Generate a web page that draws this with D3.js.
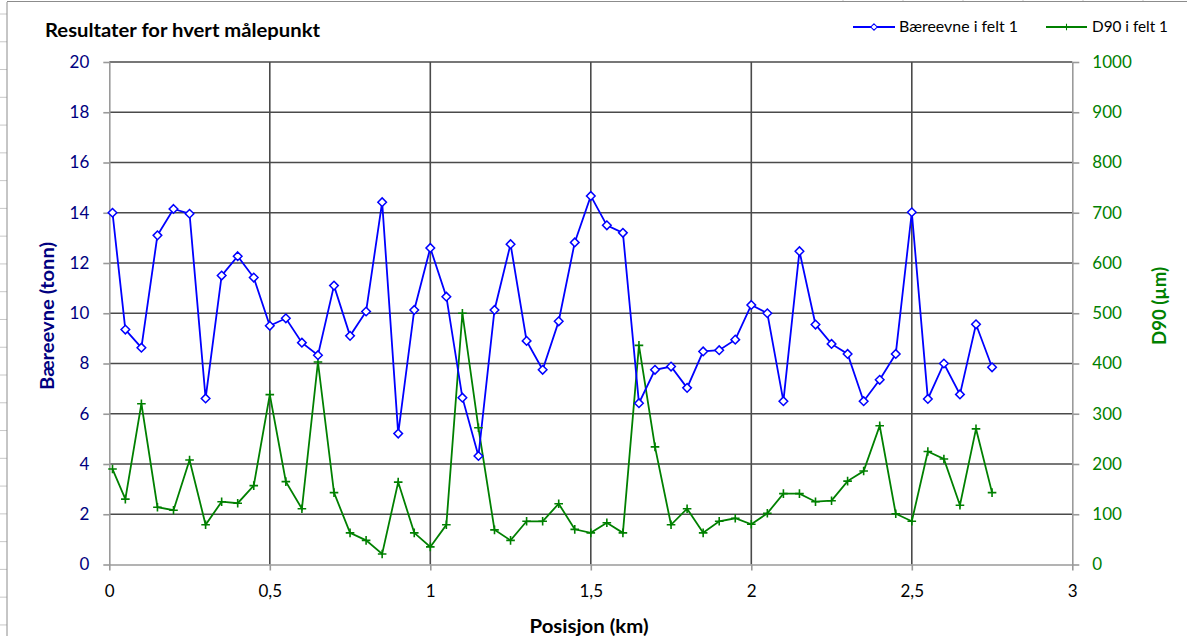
<!DOCTYPE html>
<html><head><meta charset="utf-8">
<script src="https://cdn.jsdelivr.net/npm/d3@7"></script>
<style>
html,body{margin:0;padding:0;background:#fff;}
svg{display:block;font-family:Lato,"Open Sans",sans-serif;}
</style></head>
<body>
<svg id="chart" width="1187" height="636"></svg>
<script>
// ---- data ----
const positions = [0.01,0.05,0.1,0.15,0.2,0.25,0.3,0.35,0.4,0.45,0.5,0.55,0.6,0.65,0.7,0.75,0.8,0.85,0.9,0.95,
  1.0,1.05,1.1,1.15,1.2,1.25,1.3,1.35,1.4,1.45,1.5,1.55,1.6,1.65,1.7,1.75,1.8,1.85,1.9,
  1.95,2.0,2.05,2.1,2.15,2.2,2.25,2.3,2.35,2.4,2.45,2.5,2.55,2.6,2.65,2.7,2.75];
const baereevne = [14.0,9.35,8.63,13.1,14.15,13.96,6.61,11.5,12.27,11.42,9.5,9.8,8.83,8.33,11.1,9.1,10.07,14.42,5.21,10.13,
  12.6,10.66,6.64,4.32,10.13,12.75,8.9,7.75,9.68,12.82,14.67,13.5,13.2,6.42,7.75,7.88,7.03,8.48,8.53,
  8.95,10.33,10.0,6.5,12.47,9.55,8.78,8.38,6.5,7.35,8.38,14.02,6.59,8.0,6.77,9.56,7.85];
const d90 = [190,130,320,114,108,208,79,125,122,157,338,165,111,403,143,63,48,21,164,63,
  35,79,500,272,69,48,86,86,121,70,63,83,63,436,234,79,111,63,86,
  92,80,102,141,141,125,127,166,186,276,101,86,225,210,118,270,143];
const xTicks = [0,0.5,1,1.5,2,2.5,3];
const leftTicks = [0,2,4,6,8,10,12,14,16,18,20];
const rightTicks = [0,100,200,300,400,500,600,700,800,900,1000];
const seriesNames = ["Bæreevne i felt 1","D90 i felt 1"];
const titleText = "Resultater for hvert målepunkt";
const xTitle = "Posisjon (km)";
const leftTitle = "Bæreevne (tonn)";
const rightTitle = "D90 (µm)";

// ---- layout ----
const svg = d3.select("#chart");
const L = 109.3, R = 1072.3, T = 62, B = 564.5;
const BLUE = "#0000ff", GREEN = "#008000", NAVY = "#000080";

// spreadsheet background hints
const bg = svg.append("g");
for (let y = 14; y < 636; y += 27.77) {
  bg.append("line").attr("x1",0).attr("x2",7).attr("y1",y).attr("y2",y).attr("stroke","#c8c8c8");
}
for (let x = 843; x < 1187; x += 60) {
  bg.append("line").attr("x1",x).attr("x2",x).attr("y1",0).attr("y2",2).attr("stroke","#c8c8c8");
}
// chart border
svg.append("line").attr("x1",7).attr("x2",7).attr("y1",2).attr("y2",636).attr("stroke","#8c8c8c").attr("stroke-width",1);
svg.append("line").attr("x1",7).attr("x2",1187).attr("y1",1.5).attr("y2",1.5).attr("stroke","#8c8c8c").attr("stroke-width",1);

const x = d3.scaleLinear().domain([0,3]).range([L,R]);
const yL = d3.scaleLinear().domain([0,20]).range([B,T]);
const yR = d3.scaleLinear().domain([0,1000]).range([B,T]);

// gridlines
const grid = svg.append("g");
grid.selectAll("line.h").data(leftTicks.filter(d=>d>0)).join("line")
  .attr("x1",L).attr("x2",R).attr("y1",d=>yL(d)).attr("y2",d=>yL(d))
  .attr("stroke","#4a4a4a").attr("stroke-width",1.6);
grid.selectAll("line.v").data(xTicks.filter(d=>d>0&&d<3)).join("line")
  .attr("x1",d=>x(d)).attr("x2",d=>x(d)).attr("y1",T).attr("y2",B)
  .attr("stroke","#4a4a4a").attr("stroke-width",1.6);

// axes
const comma = d => String(d).replace(".", ",");
function styleAxis(g, color) {
  g.select(".domain").attr("stroke","#9a9a9a").attr("stroke-width",1.6);
  g.selectAll(".tick line").attr("stroke","#9a9a9a").attr("stroke-width",1.6);
  g.selectAll(".tick text").attr("fill",color).style("font-size","17px").style("font-family","Lato, sans-serif");
}
const axL = svg.append("g").attr("transform",`translate(${L},0)`)
  .call(d3.axisLeft(yL).tickValues(leftTicks).tickFormat(d3.format("d")).tickSize(6).tickPadding(14).tickSizeOuter(0));
styleAxis(axL, NAVY);
const axR = svg.append("g").attr("transform",`translate(${R},0)`)
  .call(d3.axisRight(yR).tickValues(rightTicks).tickFormat(d3.format("d")).tickSize(7).tickPadding(13).tickSizeOuter(0));
styleAxis(axR, GREEN);
const axB = svg.append("g").attr("transform",`translate(0,${B})`)
  .call(d3.axisBottom(x).tickValues(xTicks).tickFormat(comma).tickSize(6).tickPadding(14).tickSizeOuter(0));
styleAxis(axB, "#000");

// series
const lineL = d3.line().x((d,i)=>x(positions[i])).y(d=>yL(d));
const lineR = d3.line().x((d,i)=>x(positions[i])).y(d=>yR(d));
svg.append("path").datum(d90).attr("d",lineR).attr("fill","none").attr("stroke",GREEN).attr("stroke-width",1.8);
svg.append("path").datum(baereevne).attr("d",lineL).attr("fill","none").attr("stroke",BLUE).attr("stroke-width",1.8);

const diamond = "M0,-4.3L4.3,0L0,4.3L-4.3,0Z";
const plus = "M-4.3,0H4.3M0,-4.3V4.3";
svg.append("g").selectAll("path").data(d90).join("path")
  .attr("transform",(d,i)=>`translate(${x(positions[i])},${yR(d)})`)
  .attr("d",plus).attr("stroke",GREEN).attr("stroke-width",1.6).attr("fill","none");
svg.append("g").selectAll("path").data(baereevne).join("path")
  .attr("transform",(d,i)=>`translate(${x(positions[i])},${yL(d)})`)
  .attr("d",diamond).attr("stroke",BLUE).attr("stroke-width",1.5).attr("fill","#fff");

// titles
svg.append("text").attr("x",45).attr("y",37).text(titleText)
  .attr("textLength",275).attr("lengthAdjust","spacingAndGlyphs")
  .style("font-weight","bold").style("font-size","19px").attr("fill","#000");
svg.append("text").attr("x",589).attr("y",633).attr("text-anchor","middle").text(xTitle)
  .attr("textLength",119).attr("lengthAdjust","spacingAndGlyphs")
  .style("font-weight","bold").style("font-size","19px").attr("fill","#000");
svg.append("text").attr("transform","translate(54,316) rotate(-90)").attr("text-anchor","middle").text(leftTitle)
  .attr("textLength",148).attr("lengthAdjust","spacingAndGlyphs")
  .style("font-weight","bold").style("font-size","19px").attr("fill",NAVY);
svg.append("text").attr("transform","translate(1166,306) rotate(-90)").attr("text-anchor","middle").text(rightTitle)
  .attr("textLength",78).attr("lengthAdjust","spacingAndGlyphs")
  .style("font-weight","bold").style("font-size","19px").attr("fill",GREEN);

// legend
const lg = svg.append("g");
const legendItems = [
  {name: seriesNames[0], x0: 853, x1: 895, tx: 899, w: 119, color: BLUE, mark: diamond, fill: "#fff"},
  {name: seriesNames[1], x0: 1046, x1: 1087, tx: 1092, w: 76, color: GREEN, mark: plus, fill: "none"}
];
legendItems.forEach(it => {
  lg.append("line").attr("x1",it.x0).attr("x2",it.x1).attr("y1",27).attr("y2",27).attr("stroke",it.color).attr("stroke-width",1.8);
  lg.append("path").attr("d",it.mark)
    .attr("stroke",it.color).attr("stroke-width",1.4).attr("fill",it.fill).attr("transform",`translate(${(it.x0+it.x1)/2},27) scale(0.75)`);
  lg.append("text").attr("x",it.tx).attr("y",32).text(it.name)
    .attr("textLength",it.w).attr("lengthAdjust","spacingAndGlyphs")
    .style("font-size","15.5px").attr("fill","#000");
});
</script>
</body></html>
